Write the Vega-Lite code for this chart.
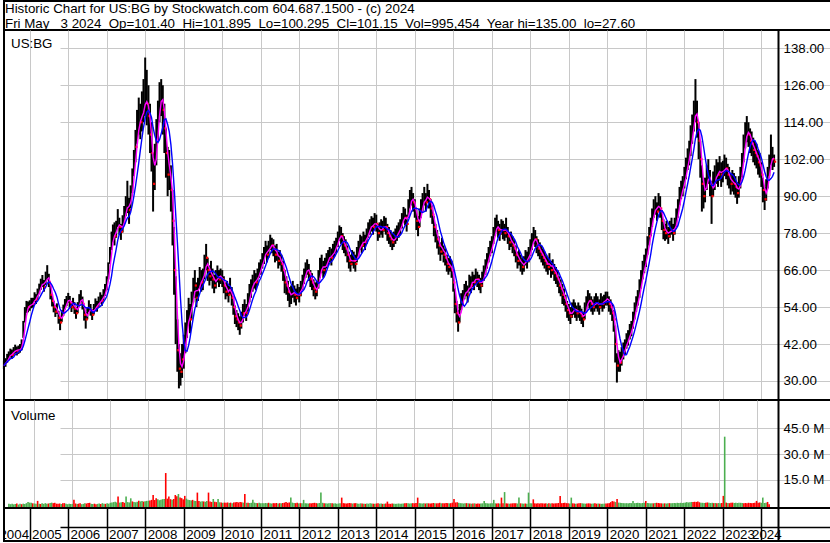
{
"$schema":"https://vega.github.io/schema/vega-lite/v6.json",
"padding":0,
"bounds":"flush",
"spacing":0,
"background":"white",
"config":{
 "view":{"stroke":"black","strokeWidth":2},
 "font":"Liberation Sans",
 "axis":{"labelFont":"Liberation Sans","labelFontSize":13.33,"labelColor":"black","gridColor":"#c8c8c8","gridWidth":1,"gridOpacity":1,"minExtent":0,"title":null},
 "title":{"font":"Liberation Sans","fontSize":13.33,"fontWeight":"normal","color":"black","anchor":"start","frame":"group"}
},
"datasets":{
"p":[
{"d":"2004-05-01","c":35.0,"h":36.6,"l":33.9,"v":1.3,"u":1},
{"d":"2004-05-16","c":36.2,"h":37.4,"l":34.6,"v":1.0,"u":1},
{"d":"2004-06-01","c":37.5,"h":38.8,"l":35.9,"v":1.2,"u":1},
{"d":"2004-06-16","c":38.0,"h":39.6,"l":36.8,"v":0.9,"u":1},
{"d":"2004-07-01","c":39.2,"h":40.5,"l":37.6,"v":1.1,"u":1},
{"d":"2004-07-16","c":38.5,"h":40.2,"l":37.2,"v":1.4,"u":0},
{"d":"2004-08-01","c":39.8,"h":41.0,"l":38.1,"v":0.8,"u":1},
{"d":"2004-08-16","c":40.5,"h":41.8,"l":38.9,"v":1.2,"u":1},
{"d":"2004-09-01","c":39.6,"h":41.2,"l":38.3,"v":1.0,"u":0},
{"d":"2004-09-16","c":40.2,"h":41.5,"l":38.8,"v":1.3,"u":1},
{"d":"2004-10-01","c":40.5,"h":42.0,"l":39.2,"v":1.1,"u":1},
{"d":"2004-10-16","c":41.5,"h":43.5,"l":40.0,"v":1.6,"u":1},
{"d":"2004-11-01","c":47.0,"h":49.5,"l":44.0,"v":2.2,"u":1},
{"d":"2004-11-16","c":52.0,"h":54.0,"l":49.0,"v":1.9,"u":1},
{"d":"2004-12-01","c":54.5,"h":56.0,"l":52.0,"v":1.8,"u":1},
{"d":"2004-12-16","c":54.0,"h":55.8,"l":52.3,"v":1.5,"u":0},
{"d":"2005-01-01","c":54.5,"h":56.2,"l":52.8,"v":1.4,"u":1},
{"d":"2005-01-16","c":55.5,"h":57.0,"l":53.6,"v":1.2,"u":1},
{"d":"2005-02-01","c":55.0,"h":57.0,"l":53.8,"v":2.9,"u":0},
{"d":"2005-02-16","c":57.5,"h":58.8,"l":55.6,"v":1.3,"u":1},
{"d":"2005-03-01","c":56.5,"h":58.2,"l":55.0,"v":1.1,"u":0},
{"d":"2005-03-16","c":58.5,"h":60.0,"l":56.6,"v":1.5,"u":1},
{"d":"2005-04-01","c":60.0,"h":61.6,"l":58.2,"v":1.2,"u":1},
{"d":"2005-04-16","c":61.5,"h":63.2,"l":59.6,"v":1.6,"u":1},
{"d":"2005-05-01","c":62.5,"h":64.4,"l":60.5,"v":1.3,"u":1},
{"d":"2005-05-16","c":60.5,"h":62.8,"l":59.0,"v":1.4,"u":0},
{"d":"2005-06-01","c":63.5,"h":65.5,"l":61.2,"v":1.7,"u":1},
{"d":"2005-06-16","c":65.0,"h":67.6,"l":62.8,"v":1.9,"u":1},
{"d":"2005-07-01","c":62.0,"h":64.8,"l":60.5,"v":1.6,"u":0},
{"d":"2005-07-16","c":58.0,"h":61.0,"l":56.5,"v":1.8,"u":0},
{"d":"2005-08-01","c":56.0,"h":58.2,"l":54.2,"v":1.3,"u":0},
{"d":"2005-08-16","c":54.0,"h":56.0,"l":52.3,"v":1.2,"u":0},
{"d":"2005-09-01","c":52.5,"h":54.6,"l":50.8,"v":1.4,"u":0},
{"d":"2005-09-16","c":53.5,"h":55.2,"l":51.8,"v":1.1,"u":1},
{"d":"2005-10-01","c":50.5,"h":52.8,"l":48.6,"v":1.5,"u":0},
{"d":"2005-10-16","c":49.0,"h":51.0,"l":46.5,"v":1.6,"u":0},
{"d":"2005-11-01","c":51.5,"h":53.0,"l":49.2,"v":1.2,"u":1},
{"d":"2005-11-16","c":53.0,"h":54.8,"l":51.2,"v":1.0,"u":1},
{"d":"2005-12-01","c":55.0,"h":56.6,"l":53.2,"v":1.3,"u":1},
{"d":"2005-12-16","c":56.0,"h":57.6,"l":54.3,"v":1.1,"u":1},
{"d":"2006-01-01","c":57.0,"h":58.6,"l":55.4,"v":1.2,"u":1},
{"d":"2006-01-16","c":55.5,"h":57.6,"l":53.8,"v":3.5,"u":0},
{"d":"2006-02-01","c":54.0,"h":56.0,"l":52.4,"v":1.4,"u":0},
{"d":"2006-02-16","c":55.5,"h":57.0,"l":53.6,"v":1.1,"u":1},
{"d":"2006-03-01","c":53.5,"h":55.6,"l":51.8,"v":1.3,"u":0},
{"d":"2006-03-16","c":52.0,"h":54.0,"l":50.2,"v":1.5,"u":0},
{"d":"2006-04-01","c":54.0,"h":55.6,"l":52.0,"v":1.0,"u":1},
{"d":"2006-04-16","c":56.5,"h":58.2,"l":54.4,"v":1.2,"u":1},
{"d":"2006-05-01","c":57.5,"h":59.5,"l":55.6,"v":1.6,"u":1},
{"d":"2006-05-16","c":55.0,"h":57.4,"l":53.2,"v":1.4,"u":0},
{"d":"2006-06-01","c":51.5,"h":54.0,"l":49.6,"v":1.7,"u":0},
{"d":"2006-06-16","c":50.0,"h":52.4,"l":47.0,"v":1.8,"u":0},
{"d":"2006-07-01","c":52.0,"h":53.8,"l":50.0,"v":1.2,"u":1},
{"d":"2006-07-16","c":54.5,"h":56.2,"l":52.4,"v":1.1,"u":1},
{"d":"2006-08-01","c":53.0,"h":55.0,"l":51.2,"v":1.3,"u":0},
{"d":"2006-08-16","c":51.5,"h":53.4,"l":49.8,"v":1.0,"u":0},
{"d":"2006-09-01","c":53.5,"h":55.0,"l":51.6,"v":1.2,"u":1},
{"d":"2006-09-16","c":55.0,"h":56.8,"l":53.2,"v":1.4,"u":1},
{"d":"2006-10-01","c":54.0,"h":56.0,"l":52.5,"v":1.1,"u":0},
{"d":"2006-10-16","c":55.5,"h":57.4,"l":53.8,"v":1.6,"u":1},
{"d":"2006-11-01","c":57.0,"h":58.8,"l":55.2,"v":1.3,"u":1},
{"d":"2006-11-16","c":56.0,"h":58.0,"l":54.4,"v":1.2,"u":0},
{"d":"2006-12-01","c":58.0,"h":59.8,"l":56.2,"v":1.5,"u":1},
{"d":"2006-12-16","c":59.5,"h":61.5,"l":57.6,"v":1.3,"u":1},
{"d":"2007-01-01","c":62.0,"h":64.0,"l":59.5,"v":1.8,"u":1},
{"d":"2007-01-16","c":66.0,"h":68.5,"l":63.0,"v":2.0,"u":1},
{"d":"2007-02-01","c":71.0,"h":73.5,"l":68.0,"v":2.2,"u":1},
{"d":"2007-02-16","c":76.0,"h":78.5,"l":72.5,"v":2.4,"u":1},
{"d":"2007-03-01","c":78.0,"h":80.8,"l":75.0,"v":2.0,"u":1},
{"d":"2007-03-16","c":77.0,"h":81.5,"l":74.0,"v":5.4,"u":0},
{"d":"2007-04-01","c":79.5,"h":82.0,"l":76.5,"v":1.9,"u":1},
{"d":"2007-04-16","c":82.5,"h":85.8,"l":80.0,"v":2.1,"u":1},
{"d":"2007-05-01","c":80.0,"h":83.0,"l":77.5,"v":2.3,"u":0},
{"d":"2007-05-16","c":78.5,"h":81.0,"l":75.8,"v":1.8,"u":0},
{"d":"2007-06-01","c":81.0,"h":83.8,"l":78.2,"v":5.4,"u":1},
{"d":"2007-06-16","c":84.0,"h":86.8,"l":81.0,"v":2.2,"u":1},
{"d":"2007-07-01","c":86.5,"h":90.0,"l":83.5,"v":2.0,"u":1},
{"d":"2007-07-16","c":88.0,"h":95.0,"l":84.5,"v":4.4,"u":1},
{"d":"2007-08-01","c":85.5,"h":89.5,"l":81.0,"v":2.6,"u":0},
{"d":"2007-08-16","c":90.0,"h":93.5,"l":86.0,"v":2.3,"u":1},
{"d":"2007-09-01","c":95.0,"h":99.0,"l":91.0,"v":2.1,"u":1},
{"d":"2007-09-16","c":101.0,"h":105.0,"l":96.5,"v":2.4,"u":1},
{"d":"2007-10-01","c":106.0,"h":111.5,"l":101.0,"v":3.0,"u":0},
{"d":"2007-10-16","c":112.0,"h":118.0,"l":107.0,"v":2.6,"u":1},
{"d":"2007-11-01","c":116.0,"h":122.0,"l":110.0,"v":2.8,"u":1},
{"d":"2007-11-16","c":114.0,"h":120.0,"l":108.5,"v":2.5,"u":0},
{"d":"2007-12-01","c":117.0,"h":124.0,"l":111.0,"v":2.7,"u":1},
{"d":"2007-12-16","c":120.0,"h":128.0,"l":114.0,"v":2.9,"u":1},
{"d":"2008-01-01","c":122.0,"h":135.0,"l":116.0,"v":3.0,"u":1},
{"d":"2008-01-16","c":120.0,"h":131.0,"l":113.0,"v":3.2,"u":0},
{"d":"2008-02-01","c":116.0,"h":126.0,"l":110.0,"v":3.5,"u":0},
{"d":"2008-02-16","c":110.0,"h":120.0,"l":104.0,"v":6.3,"u":0},
{"d":"2008-03-01","c":104.0,"h":114.0,"l":98.0,"v":3.4,"u":0},
{"d":"2008-03-16","c":94.0,"h":104.0,"l":85.0,"v":4.5,"u":0},
{"d":"2008-04-01","c":102.0,"h":107.0,"l":92.0,"v":3.8,"u":1},
{"d":"2008-04-16","c":110.0,"h":115.0,"l":100.0,"v":3.3,"u":1},
{"d":"2008-05-01","c":116.0,"h":121.0,"l":108.0,"v":3.6,"u":1},
{"d":"2008-05-16","c":122.0,"h":127.0,"l":114.0,"v":3.9,"u":1},
{"d":"2008-06-01","c":124.0,"h":128.0,"l":116.0,"v":4.0,"u":1},
{"d":"2008-06-16","c":118.0,"h":126.0,"l":110.0,"v":19.0,"u":0},
{"d":"2008-07-01","c":112.0,"h":120.0,"l":104.0,"v":4.2,"u":0},
{"d":"2008-07-16","c":104.0,"h":112.0,"l":96.0,"v":5.4,"u":0},
{"d":"2008-08-01","c":97.0,"h":106.0,"l":90.0,"v":3.9,"u":0},
{"d":"2008-08-16","c":100.0,"h":105.0,"l":92.0,"v":3.6,"u":1},
{"d":"2008-09-01","c":92.0,"h":100.0,"l":85.0,"v":4.0,"u":0},
{"d":"2008-09-16","c":82.0,"h":92.0,"l":74.0,"v":6.3,"u":0},
{"d":"2008-10-01","c":66.0,"h":80.0,"l":58.0,"v":5.6,"u":0},
{"d":"2008-10-16","c":50.0,"h":64.0,"l":42.0,"v":6.9,"u":1},
{"d":"2008-11-01","c":40.0,"h":50.0,"l":33.0,"v":4.8,"u":0},
{"d":"2008-11-16","c":34.0,"h":42.0,"l":27.6,"v":4.5,"u":0},
{"d":"2008-12-01","c":33.0,"h":39.0,"l":28.5,"v":3.8,"u":0},
{"d":"2008-12-16","c":37.0,"h":42.0,"l":31.0,"v":5.8,"u":0},
{"d":"2009-01-01","c":40.0,"h":45.0,"l":34.0,"v":4.2,"u":1},
{"d":"2009-01-16","c":45.0,"h":49.0,"l":39.0,"v":3.6,"u":1},
{"d":"2009-02-01","c":49.0,"h":53.0,"l":44.0,"v":3.4,"u":1},
{"d":"2009-02-16","c":53.0,"h":57.0,"l":48.0,"v":3.1,"u":1},
{"d":"2009-03-01","c":50.0,"h":55.0,"l":45.5,"v":3.5,"u":0},
{"d":"2009-03-16","c":56.0,"h":59.0,"l":50.0,"v":3.0,"u":1},
{"d":"2009-04-01","c":60.0,"h":63.5,"l":55.5,"v":2.8,"u":1},
{"d":"2009-04-16","c":61.0,"h":66.0,"l":57.0,"v":7.7,"u":0},
{"d":"2009-05-01","c":57.0,"h":62.0,"l":54.0,"v":2.9,"u":0},
{"d":"2009-05-16","c":60.0,"h":63.5,"l":56.0,"v":2.5,"u":1},
{"d":"2009-06-01","c":64.0,"h":67.0,"l":60.0,"v":2.7,"u":1},
{"d":"2009-06-16","c":62.0,"h":66.0,"l":59.0,"v":2.6,"u":0},
{"d":"2009-07-01","c":63.0,"h":66.5,"l":59.5,"v":2.4,"u":1},
{"d":"2009-07-16","c":68.0,"h":71.0,"l":63.0,"v":2.8,"u":1},
{"d":"2009-08-01","c":70.0,"h":74.5,"l":66.0,"v":7.7,"u":0},
{"d":"2009-08-16","c":66.0,"h":70.0,"l":62.5,"v":2.6,"u":0},
{"d":"2009-09-01","c":64.0,"h":67.5,"l":61.0,"v":2.3,"u":0},
{"d":"2009-09-16","c":66.0,"h":69.0,"l":62.5,"v":4.0,"u":1},
{"d":"2009-10-01","c":63.0,"h":66.5,"l":60.0,"v":2.4,"u":0},
{"d":"2009-10-16","c":61.0,"h":64.5,"l":58.5,"v":2.2,"u":0},
{"d":"2009-11-01","c":63.0,"h":66.0,"l":60.0,"v":4.0,"u":1},
{"d":"2009-11-16","c":65.0,"h":67.5,"l":62.0,"v":2.1,"u":1},
{"d":"2009-12-01","c":63.0,"h":66.0,"l":60.5,"v":2.0,"u":0},
{"d":"2009-12-16","c":64.0,"h":66.5,"l":61.5,"v":1.8,"u":1},
{"d":"2010-01-01","c":63.0,"h":66.0,"l":60.5,"v":1.9,"u":0},
{"d":"2010-01-16","c":61.0,"h":64.0,"l":58.5,"v":1.8,"u":0},
{"d":"2010-02-01","c":59.0,"h":62.0,"l":56.5,"v":2.0,"u":0},
{"d":"2010-02-16","c":60.0,"h":62.5,"l":57.5,"v":1.7,"u":1},
{"d":"2010-03-01","c":58.0,"h":61.0,"l":55.5,"v":1.9,"u":0},
{"d":"2010-03-16","c":61.0,"h":63.5,"l":58.0,"v":1.6,"u":1},
{"d":"2010-04-01","c":57.0,"h":60.5,"l":54.5,"v":2.0,"u":0},
{"d":"2010-04-16","c":54.0,"h":57.5,"l":51.5,"v":2.1,"u":0},
{"d":"2010-05-01","c":51.0,"h":54.5,"l":48.5,"v":2.3,"u":0},
{"d":"2010-05-16","c":50.0,"h":53.0,"l":47.5,"v":2.0,"u":0},
{"d":"2010-06-01","c":49.0,"h":52.0,"l":46.5,"v":2.2,"u":0},
{"d":"2010-06-16","c":48.0,"h":51.0,"l":45.0,"v":2.1,"u":0},
{"d":"2010-07-01","c":50.0,"h":52.5,"l":47.0,"v":1.9,"u":1},
{"d":"2010-07-16","c":52.0,"h":55.0,"l":49.0,"v":6.9,"u":0},
{"d":"2010-08-01","c":54.0,"h":56.5,"l":51.0,"v":1.8,"u":1},
{"d":"2010-08-16","c":52.0,"h":55.0,"l":49.5,"v":1.9,"u":0},
{"d":"2010-09-01","c":56.0,"h":58.5,"l":52.5,"v":1.7,"u":1},
{"d":"2010-09-16","c":59.0,"h":61.5,"l":55.5,"v":1.8,"u":1},
{"d":"2010-10-01","c":60.0,"h":63.0,"l":57.0,"v":3.5,"u":1},
{"d":"2010-10-16","c":62.0,"h":64.5,"l":59.0,"v":1.9,"u":1},
{"d":"2010-11-01","c":63.0,"h":66.0,"l":60.0,"v":1.7,"u":1},
{"d":"2010-11-16","c":62.0,"h":65.0,"l":59.5,"v":1.6,"u":0},
{"d":"2010-12-01","c":64.0,"h":66.5,"l":61.0,"v":1.8,"u":1},
{"d":"2010-12-16","c":66.0,"h":68.5,"l":63.5,"v":1.5,"u":1},
{"d":"2011-01-01","c":67.0,"h":69.5,"l":64.5,"v":1.6,"u":1},
{"d":"2011-01-16","c":69.0,"h":71.5,"l":66.5,"v":1.5,"u":1},
{"d":"2011-02-01","c":71.0,"h":73.5,"l":68.0,"v":1.7,"u":1},
{"d":"2011-02-16","c":73.0,"h":75.5,"l":70.5,"v":1.6,"u":1},
{"d":"2011-03-01","c":71.0,"h":74.0,"l":68.5,"v":1.8,"u":0},
{"d":"2011-03-16","c":73.0,"h":75.5,"l":70.0,"v":1.5,"u":1},
{"d":"2011-04-01","c":75.0,"h":77.5,"l":72.5,"v":1.4,"u":1},
{"d":"2011-04-16","c":74.0,"h":76.5,"l":71.5,"v":1.6,"u":0},
{"d":"2011-05-01","c":73.0,"h":76.0,"l":70.5,"v":1.5,"u":0},
{"d":"2011-05-16","c":71.0,"h":74.0,"l":68.5,"v":1.7,"u":0},
{"d":"2011-06-01","c":72.0,"h":74.5,"l":69.0,"v":1.4,"u":1},
{"d":"2011-06-16","c":69.0,"h":72.0,"l":66.5,"v":1.6,"u":0},
{"d":"2011-07-01","c":70.0,"h":72.5,"l":67.5,"v":1.5,"u":1},
{"d":"2011-07-16","c":68.0,"h":71.0,"l":65.5,"v":1.7,"u":0},
{"d":"2011-08-01","c":66.0,"h":69.0,"l":62.5,"v":1.9,"u":0},
{"d":"2011-08-16","c":62.0,"h":66.0,"l":58.5,"v":2.2,"u":0},
{"d":"2011-09-01","c":61.0,"h":64.0,"l":58.0,"v":1.8,"u":0},
{"d":"2011-09-16","c":59.0,"h":62.5,"l":56.0,"v":2.0,"u":0},
{"d":"2011-10-01","c":57.0,"h":60.5,"l":54.0,"v":4.8,"u":1},
{"d":"2011-10-16","c":58.0,"h":61.0,"l":55.0,"v":1.9,"u":1},
{"d":"2011-11-01","c":60.0,"h":62.5,"l":57.0,"v":1.7,"u":1},
{"d":"2011-11-16","c":58.0,"h":61.0,"l":55.5,"v":1.6,"u":0},
{"d":"2011-12-01","c":57.0,"h":60.0,"l":54.5,"v":1.8,"u":0},
{"d":"2011-12-16","c":59.0,"h":61.5,"l":56.5,"v":1.5,"u":1},
{"d":"2012-01-01","c":58.0,"h":60.5,"l":55.5,"v":1.6,"u":0},
{"d":"2012-01-16","c":60.0,"h":62.5,"l":57.5,"v":1.5,"u":1},
{"d":"2012-02-01","c":62.0,"h":64.5,"l":59.5,"v":3.5,"u":1},
{"d":"2012-02-16","c":64.0,"h":66.5,"l":61.5,"v":1.6,"u":1},
{"d":"2012-03-01","c":66.0,"h":68.5,"l":63.5,"v":1.5,"u":1},
{"d":"2012-03-16","c":67.0,"h":69.5,"l":64.5,"v":1.4,"u":1},
{"d":"2012-04-01","c":65.0,"h":68.0,"l":62.5,"v":1.6,"u":0},
{"d":"2012-04-16","c":63.0,"h":66.0,"l":60.5,"v":1.5,"u":0},
{"d":"2012-05-01","c":62.0,"h":65.0,"l":59.5,"v":1.7,"u":0},
{"d":"2012-05-16","c":60.0,"h":63.0,"l":57.5,"v":1.8,"u":0},
{"d":"2012-06-01","c":59.0,"h":62.0,"l":56.5,"v":1.6,"u":0},
{"d":"2012-06-16","c":60.0,"h":62.5,"l":57.5,"v":1.5,"u":1},
{"d":"2012-07-01","c":63.0,"h":66.0,"l":60.0,"v":1.7,"u":1},
{"d":"2012-07-16","c":67.0,"h":70.0,"l":63.5,"v":7.7,"u":1},
{"d":"2012-08-01","c":68.0,"h":71.0,"l":65.0,"v":1.8,"u":1},
{"d":"2012-08-16","c":66.0,"h":69.0,"l":63.5,"v":1.6,"u":0},
{"d":"2012-09-01","c":67.0,"h":70.0,"l":64.5,"v":1.5,"u":1},
{"d":"2012-09-16","c":69.0,"h":71.5,"l":66.5,"v":1.4,"u":1},
{"d":"2012-10-01","c":70.0,"h":72.5,"l":67.5,"v":1.5,"u":1},
{"d":"2012-10-16","c":71.0,"h":73.5,"l":68.5,"v":1.6,"u":1},
{"d":"2012-11-01","c":70.0,"h":73.0,"l":67.5,"v":1.5,"u":0},
{"d":"2012-11-16","c":72.0,"h":74.5,"l":69.5,"v":1.4,"u":1},
{"d":"2012-12-01","c":73.0,"h":75.5,"l":70.5,"v":1.5,"u":1},
{"d":"2012-12-16","c":74.0,"h":76.5,"l":71.5,"v":1.3,"u":1},
{"d":"2013-01-01","c":76.0,"h":78.5,"l":73.5,"v":1.4,"u":1},
{"d":"2013-01-16","c":78.0,"h":80.5,"l":75.5,"v":1.5,"u":1},
{"d":"2013-02-01","c":77.0,"h":80.0,"l":74.5,"v":4.8,"u":0},
{"d":"2013-02-16","c":75.0,"h":78.0,"l":72.5,"v":1.6,"u":0},
{"d":"2013-03-01","c":74.0,"h":77.0,"l":71.5,"v":1.5,"u":0},
{"d":"2013-03-16","c":73.0,"h":76.0,"l":70.5,"v":1.4,"u":0},
{"d":"2013-04-01","c":71.0,"h":74.0,"l":68.5,"v":1.6,"u":0},
{"d":"2013-04-16","c":69.0,"h":72.0,"l":66.5,"v":1.7,"u":0},
{"d":"2013-05-01","c":68.0,"h":71.0,"l":65.5,"v":1.5,"u":0},
{"d":"2013-05-16","c":70.0,"h":72.5,"l":67.5,"v":1.4,"u":1},
{"d":"2013-06-01","c":69.0,"h":72.0,"l":66.5,"v":1.5,"u":0},
{"d":"2013-06-16","c":68.0,"h":71.0,"l":65.5,"v":1.6,"u":0},
{"d":"2013-07-01","c":71.0,"h":73.5,"l":68.5,"v":1.4,"u":1},
{"d":"2013-07-16","c":73.0,"h":75.5,"l":70.5,"v":1.3,"u":1},
{"d":"2013-08-01","c":75.0,"h":77.5,"l":72.5,"v":1.5,"u":1},
{"d":"2013-08-16","c":74.0,"h":77.0,"l":71.5,"v":1.4,"u":0},
{"d":"2013-09-01","c":76.0,"h":78.5,"l":73.5,"v":1.3,"u":1},
{"d":"2013-09-16","c":75.0,"h":77.5,"l":72.5,"v":1.2,"u":0},
{"d":"2013-10-01","c":77.0,"h":79.5,"l":74.5,"v":1.4,"u":1},
{"d":"2013-10-16","c":79.0,"h":81.5,"l":76.5,"v":1.3,"u":1},
{"d":"2013-11-01","c":80.0,"h":82.5,"l":77.5,"v":1.5,"u":1},
{"d":"2013-11-16","c":81.0,"h":83.5,"l":78.5,"v":1.4,"u":1},
{"d":"2013-12-01","c":80.0,"h":83.0,"l":77.5,"v":1.3,"u":0},
{"d":"2013-12-16","c":82.0,"h":84.5,"l":79.5,"v":1.2,"u":1},
{"d":"2014-01-01","c":81.0,"h":84.0,"l":78.5,"v":1.4,"u":0},
{"d":"2014-01-16","c":78.0,"h":81.0,"l":75.5,"v":1.5,"u":0},
{"d":"2014-02-01","c":79.0,"h":81.5,"l":76.5,"v":1.3,"u":1},
{"d":"2014-02-16","c":80.0,"h":82.5,"l":77.5,"v":1.4,"u":1},
{"d":"2014-03-01","c":79.0,"h":82.0,"l":76.5,"v":1.2,"u":0},
{"d":"2014-03-16","c":81.0,"h":83.5,"l":78.5,"v":1.3,"u":1},
{"d":"2014-04-01","c":80.0,"h":83.0,"l":77.5,"v":1.4,"u":0},
{"d":"2014-04-16","c":78.0,"h":81.0,"l":75.5,"v":2.5,"u":0},
{"d":"2014-05-01","c":77.0,"h":80.0,"l":74.5,"v":1.3,"u":0},
{"d":"2014-05-16","c":76.0,"h":79.0,"l":73.5,"v":1.2,"u":0},
{"d":"2014-06-01","c":75.0,"h":78.0,"l":72.5,"v":1.4,"u":0},
{"d":"2014-06-16","c":76.0,"h":78.5,"l":73.5,"v":1.3,"u":1},
{"d":"2014-07-01","c":77.0,"h":79.5,"l":74.5,"v":1.2,"u":1},
{"d":"2014-07-16","c":78.0,"h":80.5,"l":75.5,"v":1.3,"u":1},
{"d":"2014-08-01","c":79.0,"h":81.5,"l":76.5,"v":1.4,"u":1},
{"d":"2014-08-16","c":80.0,"h":82.5,"l":77.5,"v":1.2,"u":1},
{"d":"2014-09-01","c":82.0,"h":84.5,"l":79.5,"v":1.3,"u":1},
{"d":"2014-09-16","c":84.0,"h":86.5,"l":81.5,"v":1.4,"u":1},
{"d":"2014-10-01","c":83.0,"h":86.0,"l":80.5,"v":1.5,"u":0},
{"d":"2014-10-16","c":81.0,"h":84.0,"l":78.5,"v":1.6,"u":0},
{"d":"2014-11-01","c":86.0,"h":89.0,"l":83.0,"v":1.5,"u":1},
{"d":"2014-11-16","c":89.0,"h":92.0,"l":86.0,"v":1.4,"u":1},
{"d":"2014-12-01","c":90.0,"h":93.0,"l":87.0,"v":1.5,"u":1},
{"d":"2014-12-16","c":88.0,"h":91.0,"l":85.0,"v":1.6,"u":0},
{"d":"2015-01-01","c":86.0,"h":89.0,"l":83.0,"v":1.5,"u":0},
{"d":"2015-01-16","c":82.0,"h":85.5,"l":79.0,"v":1.7,"u":0},
{"d":"2015-02-01","c":80.0,"h":83.5,"l":77.0,"v":4.8,"u":0},
{"d":"2015-02-16","c":83.0,"h":86.0,"l":80.0,"v":1.6,"u":1},
{"d":"2015-03-01","c":86.0,"h":89.0,"l":83.0,"v":1.5,"u":1},
{"d":"2015-03-16","c":88.0,"h":91.0,"l":85.0,"v":1.4,"u":1},
{"d":"2015-04-01","c":90.0,"h":93.0,"l":87.0,"v":1.5,"u":1},
{"d":"2015-04-16","c":88.0,"h":91.0,"l":85.0,"v":1.4,"u":0},
{"d":"2015-05-01","c":91.0,"h":94.0,"l":88.0,"v":1.6,"u":1},
{"d":"2015-05-16","c":89.0,"h":92.0,"l":86.0,"v":1.5,"u":0},
{"d":"2015-06-01","c":86.0,"h":89.0,"l":83.0,"v":1.4,"u":0},
{"d":"2015-06-16","c":84.0,"h":87.0,"l":81.0,"v":1.5,"u":0},
{"d":"2015-07-01","c":80.0,"h":83.5,"l":77.0,"v":1.7,"u":0},
{"d":"2015-07-16","c":78.0,"h":81.0,"l":75.0,"v":1.5,"u":1},
{"d":"2015-08-01","c":76.0,"h":79.0,"l":73.0,"v":1.5,"u":0},
{"d":"2015-08-16","c":74.0,"h":77.0,"l":71.0,"v":1.6,"u":0},
{"d":"2015-09-01","c":72.0,"h":75.0,"l":69.0,"v":1.8,"u":0},
{"d":"2015-09-16","c":74.0,"h":76.5,"l":71.0,"v":1.5,"u":1},
{"d":"2015-10-01","c":71.0,"h":74.0,"l":68.5,"v":1.6,"u":0},
{"d":"2015-10-16","c":70.0,"h":73.0,"l":67.5,"v":1.5,"u":0},
{"d":"2015-11-01","c":68.0,"h":71.0,"l":65.5,"v":1.7,"u":0},
{"d":"2015-11-16","c":67.0,"h":70.0,"l":64.5,"v":1.6,"u":0},
{"d":"2015-12-01","c":68.0,"h":70.5,"l":65.5,"v":1.5,"u":1},
{"d":"2015-12-16","c":66.0,"h":69.0,"l":63.5,"v":1.6,"u":0},
{"d":"2016-01-01","c":62.0,"h":66.0,"l":59.0,"v":1.9,"u":0},
{"d":"2016-01-16","c":55.0,"h":60.0,"l":52.0,"v":4.0,"u":0},
{"d":"2016-02-01","c":52.0,"h":56.0,"l":49.0,"v":2.0,"u":0},
{"d":"2016-02-16","c":49.0,"h":53.0,"l":46.0,"v":2.1,"u":0},
{"d":"2016-03-01","c":52.0,"h":55.0,"l":49.0,"v":1.8,"u":1},
{"d":"2016-03-16","c":56.0,"h":58.5,"l":53.0,"v":1.6,"u":1},
{"d":"2016-04-01","c":57.0,"h":59.5,"l":54.5,"v":1.5,"u":1},
{"d":"2016-04-16","c":59.0,"h":61.5,"l":56.5,"v":1.4,"u":1},
{"d":"2016-05-01","c":60.0,"h":62.5,"l":57.5,"v":1.5,"u":1},
{"d":"2016-05-16","c":58.0,"h":61.0,"l":55.5,"v":1.6,"u":0},
{"d":"2016-06-01","c":62.0,"h":64.5,"l":59.0,"v":1.5,"u":1},
{"d":"2016-06-16","c":61.0,"h":64.0,"l":58.5,"v":1.4,"u":0},
{"d":"2016-07-01","c":63.0,"h":65.5,"l":60.5,"v":1.3,"u":1},
{"d":"2016-07-16","c":62.0,"h":64.5,"l":59.5,"v":1.4,"u":0},
{"d":"2016-08-01","c":64.0,"h":66.5,"l":61.5,"v":1.5,"u":1},
{"d":"2016-08-16","c":63.0,"h":65.5,"l":60.5,"v":1.3,"u":0},
{"d":"2016-09-01","c":62.0,"h":64.5,"l":59.5,"v":1.4,"u":0},
{"d":"2016-09-16","c":61.0,"h":63.5,"l":58.5,"v":1.3,"u":0},
{"d":"2016-10-01","c":63.0,"h":65.5,"l":60.5,"v":1.4,"u":1},
{"d":"2016-10-16","c":65.0,"h":67.5,"l":62.5,"v":1.5,"u":1},
{"d":"2016-11-01","c":67.0,"h":69.5,"l":64.5,"v":2.9,"u":1},
{"d":"2016-11-16","c":69.0,"h":71.5,"l":66.5,"v":1.6,"u":1},
{"d":"2016-12-01","c":71.0,"h":73.5,"l":68.5,"v":1.5,"u":1},
{"d":"2016-12-16","c":73.0,"h":75.5,"l":70.5,"v":1.4,"u":1},
{"d":"2017-01-01","c":74.0,"h":77.0,"l":71.5,"v":1.5,"u":1},
{"d":"2017-01-16","c":77.0,"h":80.0,"l":74.5,"v":1.6,"u":1},
{"d":"2017-02-01","c":80.0,"h":83.0,"l":77.0,"v":3.5,"u":1},
{"d":"2017-02-16","c":81.0,"h":84.0,"l":78.5,"v":1.5,"u":1},
{"d":"2017-03-01","c":79.0,"h":82.0,"l":76.5,"v":1.4,"u":0},
{"d":"2017-03-16","c":78.0,"h":81.0,"l":75.5,"v":1.5,"u":0},
{"d":"2017-04-01","c":80.0,"h":82.5,"l":77.5,"v":1.4,"u":1},
{"d":"2017-04-16","c":79.0,"h":82.0,"l":76.0,"v":4.8,"u":0},
{"d":"2017-05-01","c":78.0,"h":81.0,"l":75.5,"v":1.6,"u":0},
{"d":"2017-05-16","c":80.0,"h":83.0,"l":76.5,"v":8.0,"u":1},
{"d":"2017-06-01","c":77.0,"h":80.0,"l":74.5,"v":1.5,"u":0},
{"d":"2017-06-16","c":75.0,"h":78.0,"l":72.5,"v":1.4,"u":0},
{"d":"2017-07-01","c":76.0,"h":78.5,"l":73.5,"v":1.3,"u":1},
{"d":"2017-07-16","c":74.0,"h":77.0,"l":71.5,"v":1.4,"u":0},
{"d":"2017-08-01","c":73.0,"h":76.0,"l":70.5,"v":1.5,"u":0},
{"d":"2017-08-16","c":71.0,"h":74.0,"l":68.5,"v":1.6,"u":0},
{"d":"2017-09-01","c":69.0,"h":72.0,"l":66.5,"v":1.5,"u":0},
{"d":"2017-09-16","c":70.0,"h":72.5,"l":67.5,"v":1.4,"u":1},
{"d":"2017-10-01","c":68.0,"h":71.0,"l":65.5,"v":4.8,"u":1},
{"d":"2017-10-16","c":67.0,"h":70.0,"l":64.5,"v":1.5,"u":0},
{"d":"2017-11-01","c":68.0,"h":70.5,"l":65.5,"v":1.4,"u":1},
{"d":"2017-11-16","c":70.0,"h":72.5,"l":67.5,"v":1.3,"u":1},
{"d":"2017-12-01","c":69.0,"h":72.0,"l":66.5,"v":1.4,"u":0},
{"d":"2017-12-16","c":71.0,"h":73.5,"l":68.5,"v":1.3,"u":1},
{"d":"2018-01-01","c":73.0,"h":76.0,"l":70.5,"v":7.7,"u":1},
{"d":"2018-01-16","c":75.0,"h":78.0,"l":72.5,"v":1.6,"u":1},
{"d":"2018-02-01","c":77.0,"h":80.0,"l":74.5,"v":1.5,"u":1},
{"d":"2018-02-16","c":76.0,"h":79.0,"l":73.5,"v":3.8,"u":0},
{"d":"2018-03-01","c":74.0,"h":77.0,"l":71.5,"v":1.5,"u":0},
{"d":"2018-03-16","c":73.0,"h":76.0,"l":70.5,"v":1.4,"u":0},
{"d":"2018-04-01","c":72.0,"h":75.0,"l":69.5,"v":1.5,"u":0},
{"d":"2018-04-16","c":71.0,"h":74.0,"l":68.5,"v":1.4,"u":0},
{"d":"2018-05-01","c":70.0,"h":73.0,"l":67.5,"v":1.6,"u":0},
{"d":"2018-05-16","c":69.0,"h":72.0,"l":66.5,"v":1.5,"u":0},
{"d":"2018-06-01","c":68.0,"h":71.0,"l":65.5,"v":1.4,"u":0},
{"d":"2018-06-16","c":67.0,"h":70.0,"l":64.5,"v":1.5,"u":0},
{"d":"2018-07-01","c":69.0,"h":71.5,"l":66.0,"v":1.3,"u":1},
{"d":"2018-07-16","c":66.0,"h":69.0,"l":63.5,"v":1.6,"u":0},
{"d":"2018-08-01","c":67.0,"h":69.5,"l":64.5,"v":1.4,"u":1},
{"d":"2018-08-16","c":65.0,"h":68.0,"l":62.5,"v":1.5,"u":0},
{"d":"2018-09-01","c":64.0,"h":67.0,"l":61.5,"v":1.4,"u":0},
{"d":"2018-09-16","c":63.0,"h":66.0,"l":60.5,"v":1.5,"u":0},
{"d":"2018-10-01","c":61.0,"h":64.0,"l":58.5,"v":1.6,"u":0},
{"d":"2018-10-16","c":60.0,"h":63.0,"l":57.5,"v":1.7,"u":0},
{"d":"2018-11-01","c":58.0,"h":61.5,"l":55.0,"v":5.8,"u":0},
{"d":"2018-11-16","c":57.0,"h":60.0,"l":54.5,"v":1.6,"u":0},
{"d":"2018-12-01","c":55.0,"h":58.0,"l":52.5,"v":1.7,"u":0},
{"d":"2018-12-16","c":53.0,"h":56.0,"l":50.5,"v":1.8,"u":0},
{"d":"2019-01-01","c":52.0,"h":55.0,"l":49.5,"v":1.6,"u":0},
{"d":"2019-01-16","c":51.0,"h":54.0,"l":48.5,"v":1.5,"u":0},
{"d":"2019-02-01","c":53.0,"h":55.5,"l":50.5,"v":1.4,"u":1},
{"d":"2019-02-16","c":54.0,"h":56.5,"l":51.5,"v":4.8,"u":1},
{"d":"2019-03-01","c":53.0,"h":55.5,"l":50.5,"v":1.5,"u":0},
{"d":"2019-03-16","c":52.0,"h":54.5,"l":49.5,"v":1.4,"u":0},
{"d":"2019-04-01","c":53.0,"h":55.5,"l":50.5,"v":1.3,"u":1},
{"d":"2019-04-16","c":52.0,"h":54.5,"l":49.5,"v":1.4,"u":0},
{"d":"2019-05-01","c":51.0,"h":53.5,"l":48.5,"v":1.5,"u":0},
{"d":"2019-05-16","c":50.0,"h":52.5,"l":47.5,"v":1.6,"u":0},
{"d":"2019-06-01","c":53.0,"h":55.5,"l":50.0,"v":1.5,"u":1},
{"d":"2019-06-16","c":55.0,"h":57.5,"l":52.5,"v":1.4,"u":1},
{"d":"2019-07-01","c":57.0,"h":59.5,"l":54.5,"v":1.3,"u":1},
{"d":"2019-07-16","c":56.0,"h":58.5,"l":53.5,"v":1.4,"u":0},
{"d":"2019-08-01","c":55.0,"h":57.5,"l":52.5,"v":1.5,"u":0},
{"d":"2019-08-16","c":54.0,"h":56.5,"l":51.5,"v":1.4,"u":0},
{"d":"2019-09-01","c":55.0,"h":57.5,"l":52.5,"v":1.3,"u":1},
{"d":"2019-09-16","c":56.0,"h":58.5,"l":53.5,"v":1.4,"u":1},
{"d":"2019-10-01","c":55.0,"h":57.5,"l":52.5,"v":1.5,"u":0},
{"d":"2019-10-16","c":54.0,"h":56.5,"l":51.5,"v":1.3,"u":0},
{"d":"2019-11-01","c":56.0,"h":58.5,"l":53.5,"v":1.4,"u":1},
{"d":"2019-11-16","c":55.0,"h":57.5,"l":52.5,"v":1.3,"u":0},
{"d":"2019-12-01","c":56.0,"h":58.0,"l":53.5,"v":1.2,"u":1},
{"d":"2019-12-16","c":57.0,"h":59.0,"l":54.5,"v":1.3,"u":1},
{"d":"2020-01-01","c":57.0,"h":59.0,"l":54.5,"v":1.3,"u":1},
{"d":"2020-01-16","c":55.0,"h":57.5,"l":52.5,"v":1.4,"u":0},
{"d":"2020-02-01","c":54.0,"h":56.5,"l":51.5,"v":1.5,"u":0},
{"d":"2020-02-16","c":52.0,"h":55.0,"l":49.5,"v":1.6,"u":0},
{"d":"2020-03-01","c":50.0,"h":53.0,"l":46.0,"v":2.2,"u":0},
{"d":"2020-03-16","c":42.0,"h":48.0,"l":36.0,"v":2.8,"u":0},
{"d":"2020-04-01","c":35.0,"h":39.0,"l":29.5,"v":2.6,"u":0},
{"d":"2020-04-16","c":37.0,"h":40.0,"l":33.0,"v":2.2,"u":1},
{"d":"2020-05-01","c":36.0,"h":39.5,"l":33.0,"v":4.0,"u":0},
{"d":"2020-05-16","c":38.0,"h":41.0,"l":35.0,"v":1.9,"u":1},
{"d":"2020-06-01","c":40.0,"h":42.5,"l":37.0,"v":1.8,"u":1},
{"d":"2020-06-16","c":41.0,"h":43.5,"l":38.5,"v":1.7,"u":1},
{"d":"2020-07-01","c":43.0,"h":45.5,"l":40.5,"v":1.6,"u":1},
{"d":"2020-07-16","c":44.0,"h":46.5,"l":41.5,"v":1.5,"u":1},
{"d":"2020-08-01","c":46.0,"h":48.5,"l":43.5,"v":1.6,"u":1},
{"d":"2020-08-16","c":47.0,"h":49.5,"l":44.5,"v":1.5,"u":1},
{"d":"2020-09-01","c":50.0,"h":52.5,"l":47.0,"v":1.7,"u":1},
{"d":"2020-09-16","c":53.0,"h":55.5,"l":50.0,"v":1.6,"u":1},
{"d":"2020-10-01","c":55.0,"h":57.5,"l":52.5,"v":2.9,"u":1},
{"d":"2020-10-16","c":57.0,"h":59.5,"l":54.5,"v":1.6,"u":1},
{"d":"2020-11-01","c":60.0,"h":63.0,"l":57.0,"v":1.7,"u":1},
{"d":"2020-11-16","c":63.0,"h":66.0,"l":60.0,"v":1.8,"u":1},
{"d":"2020-12-01","c":66.0,"h":69.0,"l":63.0,"v":1.7,"u":1},
{"d":"2020-12-16","c":68.0,"h":71.0,"l":65.0,"v":1.6,"u":1},
{"d":"2021-01-01","c":70.0,"h":73.0,"l":67.0,"v":1.7,"u":1},
{"d":"2021-01-16","c":74.0,"h":77.0,"l":71.0,"v":1.8,"u":1},
{"d":"2021-02-01","c":77.0,"h":80.0,"l":74.0,"v":2.9,"u":0},
{"d":"2021-02-16","c":80.0,"h":83.0,"l":77.0,"v":1.7,"u":1},
{"d":"2021-03-01","c":83.0,"h":86.0,"l":80.0,"v":1.6,"u":1},
{"d":"2021-03-16","c":86.0,"h":89.0,"l":83.0,"v":1.5,"u":1},
{"d":"2021-04-01","c":87.0,"h":90.0,"l":84.0,"v":1.6,"u":1},
{"d":"2021-04-16","c":85.0,"h":88.0,"l":82.0,"v":1.5,"u":0},
{"d":"2021-05-01","c":88.0,"h":91.0,"l":85.0,"v":1.7,"u":1},
{"d":"2021-05-16","c":86.0,"h":90.0,"l":83.0,"v":1.8,"u":0},
{"d":"2021-06-01","c":82.0,"h":85.5,"l":79.0,"v":1.7,"u":0},
{"d":"2021-06-16","c":79.0,"h":82.5,"l":76.0,"v":1.6,"u":0},
{"d":"2021-07-01","c":78.0,"h":81.0,"l":75.5,"v":1.5,"u":0},
{"d":"2021-07-16","c":79.0,"h":82.0,"l":76.0,"v":1.4,"u":1},
{"d":"2021-08-01","c":77.0,"h":80.0,"l":74.5,"v":1.5,"u":0},
{"d":"2021-08-16","c":79.0,"h":82.0,"l":76.5,"v":1.4,"u":1},
{"d":"2021-09-01","c":80.0,"h":83.0,"l":77.5,"v":1.5,"u":1},
{"d":"2021-09-16","c":78.0,"h":81.0,"l":75.5,"v":1.6,"u":0},
{"d":"2021-10-01","c":80.0,"h":83.0,"l":77.5,"v":1.5,"u":1},
{"d":"2021-10-16","c":83.0,"h":86.0,"l":80.0,"v":1.6,"u":1},
{"d":"2021-11-01","c":86.0,"h":89.0,"l":83.0,"v":1.7,"u":1},
{"d":"2021-11-16","c":90.0,"h":93.0,"l":87.0,"v":1.6,"u":1},
{"d":"2021-12-01","c":92.0,"h":95.0,"l":89.0,"v":1.8,"u":1},
{"d":"2021-12-16","c":93.0,"h":96.5,"l":90.0,"v":1.7,"u":1},
{"d":"2022-01-01","c":96.0,"h":99.5,"l":92.5,"v":1.8,"u":1},
{"d":"2022-01-16","c":99.0,"h":102.5,"l":95.5,"v":1.7,"u":1},
{"d":"2022-02-01","c":102.0,"h":105.5,"l":98.5,"v":1.8,"u":1},
{"d":"2022-02-16","c":104.0,"h":108.0,"l":100.0,"v":1.9,"u":1},
{"d":"2022-03-01","c":108.0,"h":113.0,"l":103.0,"v":2.2,"u":1},
{"d":"2022-03-16","c":112.0,"h":116.5,"l":107.0,"v":2.0,"u":1},
{"d":"2022-04-01","c":116.0,"h":121.0,"l":111.0,"v":2.1,"u":1},
{"d":"2022-04-16","c":120.0,"h":128.0,"l":114.0,"v":2.3,"u":1},
{"d":"2022-05-01","c":114.0,"h":121.0,"l":109.0,"v":2.2,"u":0},
{"d":"2022-05-16","c":108.0,"h":114.0,"l":102.0,"v":2.4,"u":0},
{"d":"2022-06-01","c":102.0,"h":108.0,"l":96.0,"v":2.3,"u":0},
{"d":"2022-06-16","c":94.0,"h":100.0,"l":85.0,"v":2.6,"u":0},
{"d":"2022-07-01","c":90.0,"h":95.0,"l":86.0,"v":2.1,"u":0},
{"d":"2022-07-16","c":92.0,"h":96.0,"l":88.0,"v":1.9,"u":1},
{"d":"2022-08-01","c":96.0,"h":100.0,"l":92.0,"v":1.8,"u":1},
{"d":"2022-08-16","c":98.0,"h":102.0,"l":94.0,"v":1.7,"u":1},
{"d":"2022-09-01","c":94.0,"h":98.5,"l":90.0,"v":1.9,"u":0},
{"d":"2022-09-16","c":90.0,"h":95.0,"l":81.0,"v":2.0,"u":0},
{"d":"2022-10-01","c":94.0,"h":98.0,"l":90.0,"v":1.8,"u":1},
{"d":"2022-10-16","c":96.0,"h":100.0,"l":92.0,"v":1.7,"u":1},
{"d":"2022-11-01","c":98.0,"h":102.0,"l":94.0,"v":1.8,"u":1},
{"d":"2022-11-16","c":97.0,"h":101.0,"l":93.0,"v":1.6,"u":0},
{"d":"2022-12-01","c":99.0,"h":103.0,"l":95.0,"v":1.7,"u":1},
{"d":"2022-12-16","c":97.0,"h":101.0,"l":93.0,"v":1.6,"u":0},
{"d":"2023-01-01","c":98.0,"h":101.5,"l":94.5,"v":1.7,"u":1},
{"d":"2023-01-16","c":100.0,"h":103.5,"l":96.5,"v":1.6,"u":1},
{"d":"2023-02-01","c":99.0,"h":102.5,"l":95.5,"v":1.7,"u":0},
{"d":"2023-02-16","c":97.0,"h":100.5,"l":93.5,"v":5.8,"u":0},
{"d":"2023-03-01","c":96.0,"h":99.5,"l":92.5,"v":40.0,"u":1},
{"d":"2023-03-16","c":94.0,"h":97.5,"l":90.5,"v":1.9,"u":0},
{"d":"2023-04-01","c":95.0,"h":98.5,"l":91.5,"v":1.7,"u":1},
{"d":"2023-04-16","c":94.0,"h":97.5,"l":90.5,"v":1.6,"u":0},
{"d":"2023-05-01","c":93.0,"h":96.5,"l":89.5,"v":1.8,"u":0},
{"d":"2023-05-16","c":91.0,"h":94.5,"l":87.5,"v":1.9,"u":0},
{"d":"2023-06-01","c":93.0,"h":96.5,"l":89.5,"v":1.7,"u":1},
{"d":"2023-06-16","c":96.0,"h":99.5,"l":92.5,"v":1.8,"u":1},
{"d":"2023-07-01","c":100.0,"h":104.0,"l":96.0,"v":1.7,"u":1},
{"d":"2023-07-16","c":106.0,"h":110.0,"l":101.0,"v":1.9,"u":1},
{"d":"2023-08-01","c":110.0,"h":114.0,"l":105.5,"v":1.8,"u":1},
{"d":"2023-08-16","c":112.0,"h":116.0,"l":107.5,"v":1.7,"u":1},
{"d":"2023-09-01","c":110.0,"h":114.0,"l":106.0,"v":1.6,"u":0},
{"d":"2023-09-16","c":108.0,"h":112.0,"l":104.0,"v":1.7,"u":0},
{"d":"2023-10-01","c":107.0,"h":111.0,"l":103.0,"v":1.6,"u":0},
{"d":"2023-10-16","c":105.0,"h":109.0,"l":101.0,"v":1.8,"u":0},
{"d":"2023-11-01","c":104.0,"h":108.0,"l":100.0,"v":1.7,"u":0},
{"d":"2023-11-16","c":103.0,"h":107.0,"l":99.0,"v":1.6,"u":0},
{"d":"2023-12-01","c":101.0,"h":105.0,"l":97.0,"v":1.7,"u":0},
{"d":"2023-12-16","c":100.0,"h":104.0,"l":96.0,"v":1.8,"u":0},
{"d":"2024-01-01","c":97.0,"h":101.0,"l":93.0,"v":2.9,"u":0},
{"d":"2024-01-16","c":92.0,"h":96.0,"l":88.0,"v":1.9,"u":0},
{"d":"2024-02-01","c":89.0,"h":93.0,"l":85.5,"v":2.0,"u":0},
{"d":"2024-02-16","c":92.0,"h":95.5,"l":88.5,"v":1.8,"u":1},
{"d":"2024-03-01","c":96.0,"h":99.5,"l":92.5,"v":4.8,"u":1},
{"d":"2024-03-16","c":100.0,"h":103.5,"l":96.5,"v":1.7,"u":1},
{"d":"2024-04-01","c":104.0,"h":110.0,"l":100.0,"v":1.9,"u":1},
{"d":"2024-04-16","c":102.0,"h":106.0,"l":98.5,"v":2.3,"u":0},
{"d":"2024-05-01","c":101.2,"h":103.5,"l":99.5,"v":1.0,"u":0}
],
"yr":[
{"yr":"2004","d":"2004-08-26"},{"yr":"2005","d":"2005-07-02"},{"yr":"2006","d":"2006-07-02"},{"yr":"2007","d":"2007-07-02"},{"yr":"2008","d":"2008-07-02"},{"yr":"2009","d":"2009-07-02"},{"yr":"2010","d":"2010-07-02"},{"yr":"2011","d":"2011-07-02"},{"yr":"2012","d":"2012-07-02"},{"yr":"2013","d":"2013-07-02"},{"yr":"2014","d":"2014-07-02"},{"yr":"2015","d":"2015-07-02"},{"yr":"2016","d":"2016-07-02"},{"yr":"2017","d":"2017-07-02"},{"yr":"2018","d":"2018-07-02"},{"yr":"2019","d":"2019-07-02"},{"yr":"2020","d":"2020-07-02"},{"yr":"2021","d":"2021-07-02"},{"yr":"2022","d":"2022-07-02"},{"yr":"2023","d":"2023-07-02"},{"yr":"2024","d":"2024-03-12"}
]
},
"vconcat":[
{
 "width":828,"height":29,
 "data":{"values":[
  {"n":1,"t":"Historic Chart for US:BG by Stockwatch.com 604.687.1500 - (c) 2024"},
  {"n":2,"t":"Fri May\u00a0\u00a0 3 2024\u00a0 Op=101.40\u00a0 Hi=101.895\u00a0 Lo=100.295\u00a0 Cl=101.15\u00a0 Vol=995,454\u00a0 Year hi=135.00\u00a0 lo=27.60"}
 ]},
 "mark":{"type":"text","align":"left","baseline":"middle","font":"Liberation Sans","fontSize":13.33,"color":"black","dx":1,"dy":1},
 "encoding":{
  "x":{"datum":0,"type":"quantitative","scale":{"domain":[0,1]},"axis":null},
  "y":{"field":"n","type":"ordinal","scale":{"type":"point","padding":0.45},"axis":null},
  "text":{"field":"t"}
 }
},
{
 "width":828,"height":370,
 "title":{"text":"US:BG","offset":-34,"dx":7,"baseline":"bottom"},
 "data":{"name":"p"},
 "layer":[
  {"mark":{"type":"rule","color":"black","strokeWidth":2},
   "encoding":{
    "x":{"field":"d","type":"temporal",
     "scale":{"domain":[{"year":2004,"month":5,"date":2},{"year":2024,"month":5,"date":19}],"range":[0,772]},
     "axis":{"grid":true,"labels":false,"ticks":false,"domain":false,
      "values":[{"year":2005},{"year":2006},{"year":2007},{"year":2008},{"year":2009},{"year":2010},{"year":2011},{"year":2012},{"year":2013},{"year":2014},{"year":2015},{"year":2016},{"year":2017},{"year":2018},{"year":2019},{"year":2020},{"year":2021},{"year":2022},{"year":2023},{"year":2024}]}},
    "y":{"field":"l","type":"quantitative","scale":{"domain":[23.83,143.94],"nice":false,"zero":false},
     "axis":{"orient":"right","offset":-54,"values":[30,36,42,48,54,60,66,72,78,84,90,96,102,108,114,120,126,132,138],"format":".2f","domain":true,"domainColor":"black","domainWidth":2,"ticks":false,"tickSize":0,"labelPadding":5,"grid":true}},
    "y2":{"field":"h"}
   }},
  {"transform":[{"filter":"datum.u == 0"}],
   "mark":{"type":"square","color":"#ff0000","size":5,"opacity":1,"xOffset":1},
   "encoding":{"x":{"field":"d","type":"temporal"},"y":{"field":"c","type":"quantitative"}}},
  {"transform":[{"window":[{"op":"mean","field":"c","as":"m"}],"frame":[-2,0],"sort":[{"field":"d"}]}],
   "mark":{"type":"line","color":"#ff00ff","strokeWidth":1.4},
   "encoding":{"x":{"field":"d","type":"temporal"},"y":{"field":"m","type":"quantitative"}}},
  {"transform":[{"window":[{"op":"mean","field":"c","as":"b"}],"frame":[-6,0],"sort":[{"field":"d"}]}],
   "mark":{"type":"line","color":"#0000ff","strokeWidth":1.4},
   "encoding":{"x":{"field":"d","type":"temporal"},"y":{"field":"b","type":"quantitative"}}}
 ]
},
{
 "width":828,"height":108,
 "title":{"text":"Volume","offset":-36,"dx":7,"baseline":"bottom"},
 "data":{"name":"p"},
 "mark":{"type":"bar","width":1.6},
 "encoding":{
  "x":{"field":"d","type":"temporal",
   "scale":{"domain":[{"year":2004,"month":5,"date":2},{"year":2024,"month":5,"date":19}],"range":[0,772]},
   "axis":{"grid":true,"labels":false,"ticks":false,"domain":false,
    "values":[{"year":2005},{"year":2006},{"year":2007},{"year":2008},{"year":2009},{"year":2010},{"year":2011},{"year":2012},{"year":2013},{"year":2014},{"year":2015},{"year":2016},{"year":2017},{"year":2018},{"year":2019},{"year":2020},{"year":2021},{"year":2022},{"year":2023},{"year":2024}]}},
  "y":{"field":"v","type":"quantitative","scale":{"domain":[-1.2,61.2],"nice":false,"zero":false},
   "axis":{"orient":"right","offset":-54,"values":[15,30,45],"labelExpr":"format(datum.value, '.1f') + ' M'","domain":true,"domainColor":"black","domainWidth":2,"ticks":false,"tickSize":0,"labelPadding":5,"grid":true}},
  "y2":{"datum":-1.2},
  "color":{"field":"u","type":"nominal","scale":{"domain":[0,1],"range":["#ff0000","#4caf50"]},"legend":null}
 }
},
{
 "width":828,"height":33,
 "data":{"name":"yr"},
 "mark":{"type":"text","align":"center","baseline":"middle","font":"Liberation Sans","fontSize":13.33,"color":"black","dx":-2,"clip":true},
 "encoding":{
  "x":{"field":"d","type":"temporal",
   "scale":{"domain":[{"year":2004,"month":5,"date":2},{"year":2024,"month":5,"date":19}],"range":[0,772]},
   "axis":{"grid":true,"gridColor":"black","gridWidth":1.5,"labels":false,"ticks":false,"domain":false,
    "values":[{"year":2005},{"year":2006},{"year":2007},{"year":2008},{"year":2009},{"year":2010},{"year":2011},{"year":2012},{"year":2013},{"year":2014},{"year":2015},{"year":2016},{"year":2017},{"year":2018},{"year":2019},{"year":2020},{"year":2021},{"year":2022},{"year":2023},{"year":2024}]}},
  "y":{"datum":6,"type":"quantitative","scale":{"domain":[0,33],"nice":false,"zero":false},
   "axis":{"orient":"right","offset":-54,"values":[14],"grid":true,"gridColor":"black","gridWidth":1.5,"labels":false,"ticks":false,"tickSize":0,"domain":true,"domainColor":"black","domainWidth":2}},
  "text":{"field":"yr"}
 }
}
]
}
